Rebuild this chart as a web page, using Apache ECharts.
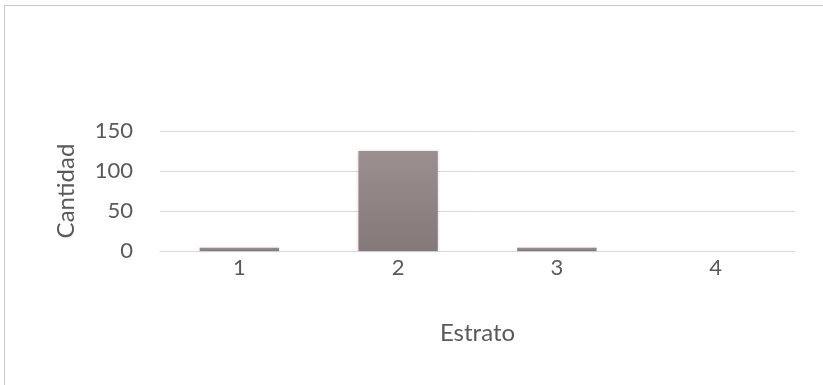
<!DOCTYPE html>
<html>
<head>
<meta charset="utf-8">
<script src="https://cdn.jsdelivr.net/npm/echarts@6/dist/echarts.min.js"></script>
<style>
  html, body { margin: 0; padding: 0; background: #fff; }
  #chart { width: 823px; height: 385px; }
  #frame { position: absolute; left: 4px; top: 5px; width: 830px; height: 390px;
           border-left: 1px solid #c8c8c8; border-top: 1px solid #c8c8c8; pointer-events: none; }
</style>
</head>
<body>
<div id="chart"></div>
<div id="frame"></div>
<script>
// datos
const estratos = ['1', '2', '3', '4'];
const cantidad = [4, 125, 4, 0];
const yTicks = [0, 50, 100, 150];

const chart = echarts.init(document.getElementById('chart'));
const font = 'Lato, "Open Sans", sans-serif';

chart.setOption({
  animation: false,
  grid: { left: 160, right: 28, top: 131, bottom: 134 },
  xAxis: {
    type: 'category',
    data: estratos,
    name: 'Estrato',
    nameLocation: 'middle',
    nameGap: 70,
    nameTextStyle: { color: '#595959', fontSize: 24, fontFamily: font },
    axisLine: { lineStyle: { color: '#d9d9d9', width: 1 } },
    axisTick: { show: false },
    axisLabel: { color: '#595959', fontSize: 22, fontFamily: font, margin: 6 }
  },
  yAxis: {
    type: 'value',
    min: yTicks[0],
    max: yTicks[yTicks.length - 1],
    interval: 50,
    name: 'Cantidad',
    nameLocation: 'middle',
    nameGap: 82,
    nameTextStyle: { color: '#595959', fontSize: 24, fontFamily: font },
    axisLine: { show: false },
    axisTick: { show: false },
    splitLine: { lineStyle: { color: '#d9d9d9', width: 1 } },
    axisLabel: { color: '#595959', fontSize: 22, fontFamily: font, margin: 27 }
  },
  series: [{
    type: 'bar',
    data: cantidad,
    barWidth: '50%',
    itemStyle: {
      color: new echarts.graphic.LinearGradient(0, 0, 0, 1, [
        { offset: 0, color: '#9b8f90' },
        { offset: 1, color: '#857879' }
      ]),
      shadowColor: 'rgba(0,0,0,0.15)',
      shadowBlur: 3
    }
  }]
});
</script>
</body>
</html>
